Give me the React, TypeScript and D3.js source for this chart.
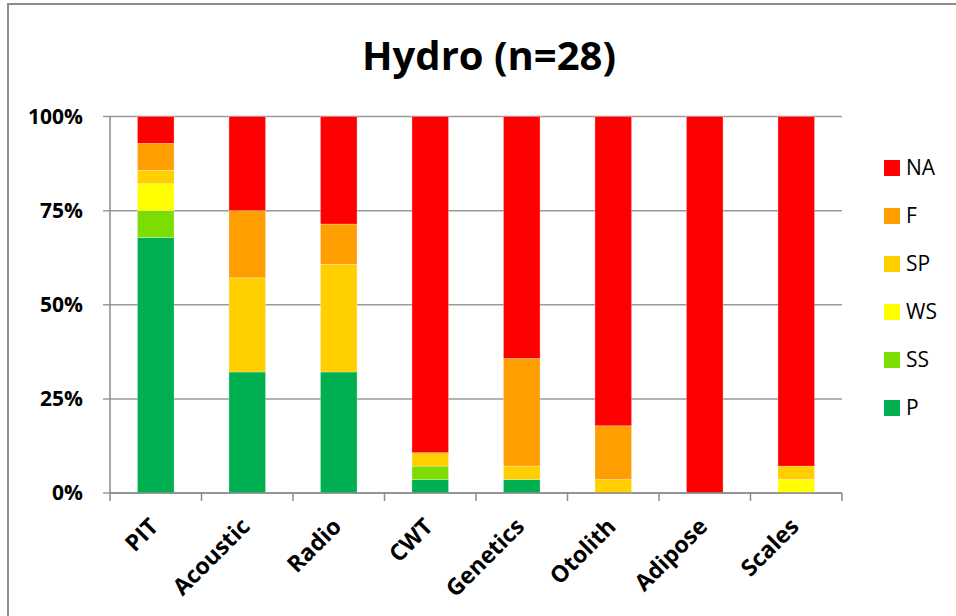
import { useEffect, useRef } from 'react'
import * as d3 from 'd3'

const categories = ['PIT', 'Acoustic', 'Radio', 'CWT', 'Genetics', 'Otolith', 'Adipose', 'Scales']
const seriesNames = ['P', 'SS', 'WS', 'SP', 'F', 'NA']
const seriesColors = ['#00b050', '#7ddc00', '#ffff00', '#ffcf00', '#ff9e00', '#ff0000']

// counts out of n = 28
const P = [19, 9, 9, 1, 1, 0, 0, 0]
const SS = [2, 0, 0, 1, 0, 0, 0, 0]
const WS = [2, 0, 0, 0, 0, 0, 0, 1]
const SP = [1, 7, 8, 1, 1, 1, 0, 1]
const F = [2, 5, 3, 0, 8, 4, 0, 0]
const NA = [2, 7, 8, 25, 18, 23, 28, 26]

const yTicks = [0, 0.25, 0.5, 0.75, 1]
const title = 'Hydro (n=28)'

export default function App() {
  const svgRef = useRef<SVGSVGElement>(null)
  const width = 956
  const height = 616

  useEffect(() => {
    if (!svgRef.current) return
    const svg = d3.select(svgRef.current)
    svg.selectAll('*').remove()

    const margin = { top: 116.5, left: 110, right: 114, bottom: 123 }
    const plotW = width - margin.left - margin.right
    const plotH = height - margin.top - margin.bottom

    const rows = categories.map((c, i) => {
      const vals = [P[i], SS[i], WS[i], SP[i], F[i], NA[i]]
      const total = d3.sum(vals)
      const r: Record<string, any> = { cat: c }
      seriesNames.forEach((s, k) => (r[s] = vals[k] / total))
      return r
    })

    const stacked = d3.stack<any>().keys(seriesNames)(rows)

    const x = d3.scaleBand().domain(categories).range([0, plotW]).paddingInner(0.6).paddingOuter(0.3)
    const y = d3.scaleLinear().domain([0, 1]).range([plotH, 0])

    // chart border
    svg.append('rect')
      .attr('x', 8).attr('y', 4)
      .attr('width', width).attr('height', height)
      .attr('fill', 'none')
      .attr('stroke', '#8c8c8c')
      .attr('stroke-width', 2)

    svg.append('text')
      .attr('x', 489).attr('y', 70)
      .attr('text-anchor', 'middle')
      .attr('font-family', '"Open Sans", sans-serif')
      .attr('font-weight', 'bold')
      .attr('font-size', 40)
      .text(title)

    const g = svg.append('g').attr('transform', `translate(${margin.left},${margin.top})`)

    // gridlines
    g.append('g')
      .selectAll('line')
      .data(yTicks)
      .enter().append('line')
      .attr('x1', -7).attr('x2', plotW)
      .attr('y1', d => y(d)).attr('y2', d => y(d))
      .attr('stroke', '#9a9a9a')
      .attr('stroke-width', 1.5)

    g.append('g')
      .selectAll('text')
      .data(yTicks)
      .enter().append('text')
      .attr('x', -27)
      .attr('y', d => y(d))
      .attr('dy', '0.35em')
      .attr('text-anchor', 'end')
      .attr('font-family', '"Open Sans", sans-serif')
      .attr('font-weight', 'bold')
      .attr('font-size', 21)
      .text(d => d3.format('.0%')(d))

    // bars
    g.append('g')
      .selectAll('g')
      .data(stacked)
      .enter().append('g')
      .attr('fill', (_, i) => seriesColors[i])
      .selectAll('rect')
      .data(d => d)
      .enter().append('rect')
      .attr('x', d => x(d.data.cat)!)
      .attr('width', x.bandwidth())
      .attr('y', d => y(d[1]))
      .attr('height', d => y(d[0]) - y(d[1]))
      .attr('stroke', '#ffffff')
      .attr('stroke-opacity', 0.35)
      .attr('stroke-width', 0.8)

    // axes lines
    g.append('line')
      .attr('x1', 0).attr('x2', 0).attr('y1', 0).attr('y2', plotH)
      .attr('stroke', '#8a8a8a').attr('stroke-width', 1.5)
    g.append('line')
      .attr('x1', 0).attr('x2', plotW).attr('y1', plotH).attr('y2', plotH)
      .attr('stroke', '#8a8a8a').attr('stroke-width', 1.5)

    const tickXs = d3.range(categories.length + 1).map(i => i * plotW / categories.length)
    g.append('g')
      .selectAll('line')
      .data(tickXs)
      .enter().append('line')
      .attr('x1', d => d).attr('x2', d => d)
      .attr('y1', plotH).attr('y2', plotH + 8)
      .attr('stroke', '#8a8a8a').attr('stroke-width', 1.5)

    g.append('g')
      .selectAll('text')
      .data(categories)
      .enter().append('text')
      .attr('transform', d => `translate(${x(d)! + x.bandwidth() / 2 + 4},${plotH + 35}) rotate(-45)`)
      .attr('text-anchor', 'end')
      .attr('font-family', '"Open Sans", sans-serif')
      .attr('font-weight', 'bold')
      .attr('font-size', 23)
      .text(d => d)

    // legend
    const legendNames = seriesNames.slice().reverse()
    const legendColors = seriesColors.slice().reverse()
    const legend = svg.append('g').attr('transform', 'translate(884,168)')
    legendNames.forEach((s, i) => {
      const row = legend.append('g').attr('transform', `translate(0,${i * 48})`)
      row.append('rect')
        .attr('x', 0).attr('y', -8)
        .attr('width', 16).attr('height', 16)
        .attr('fill', legendColors[i])
      row.append('text')
        .attr('x', 22).attr('y', 0)
        .attr('dy', '0.35em')
        .attr('font-family', '"Open Sans", sans-serif')
        .attr('font-size', 21)
        .text(s)
    })
  }, [])

  return (
    <svg
      ref={svgRef}
      width={width}
      height={height}
      style={{ position: 'absolute', left: 0, top: 0, background: '#fff' }}
    />
  )
}
